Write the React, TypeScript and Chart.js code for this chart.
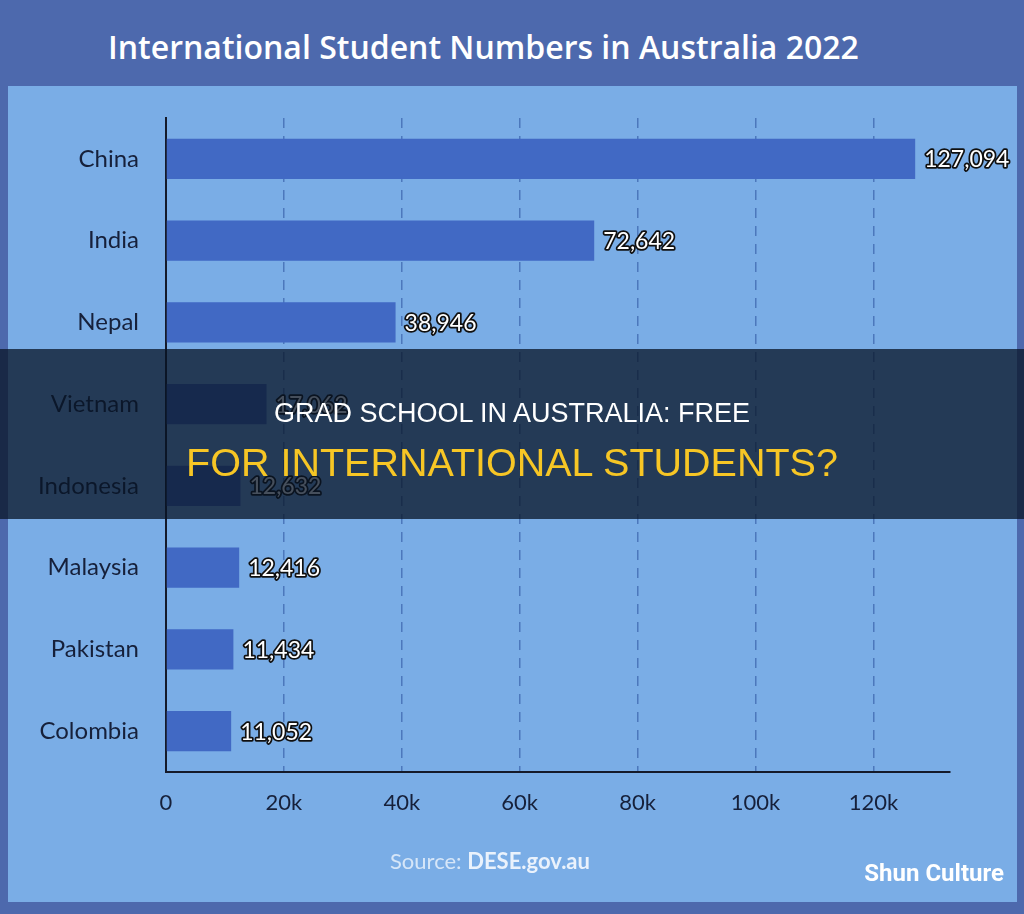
import React, { useEffect, useRef } from "react";
import { Chart, registerables } from "chart.js";

Chart.register(...registerables);

const TITLE = "International Student Numbers in Australia 2022";
const countries = ["China", "India", "Nepal", "Vietnam", "Indonesia", "Malaysia", "Pakistan", "Colombia"];
const students = [127094, 72642, 38946, 17062, 12632, 12416, 11434, 11052];
const xTickValues = [0, 20000, 40000, 60000, 80000, 100000, 120000];
const xTickLabels = ["0", "20k", "40k", "60k", "80k", "100k", "120k"];
const X_MAX = 133000;
const OVERLAY_LINE1 = "GRAD SCHOOL IN AUSTRALIA: FREE";
const OVERLAY_LINE2 = "FOR INTERNATIONAL STUDENTS?";

const valueLabelPlugin = {
  id: "valueLabels",
  afterDatasetsDraw(chart: any) {
    const ctx = chart.ctx;
    const meta = chart.getDatasetMeta(0);
    ctx.save();
    ctx.font = "23px Lato";
    ctx.textAlign = "left";
    ctx.textBaseline = "middle";
    ctx.lineJoin = "round";
    meta.data.forEach((bar: any, i: number) => {
      const txt = students[i].toLocaleString("en-US");
      const x = bar.x + 9;
      const y = bar.y + 1;
      ctx.lineWidth = 3.5;
      ctx.strokeStyle = "#101010";
      ctx.strokeText(txt, x, y);
      ctx.fillStyle = "#ffffff";
      ctx.fillText(txt, x, y);
    });
    ctx.restore();
  },
};

export default function App() {
  const canvasRef = useRef<HTMLCanvasElement | null>(null);

  useEffect(() => {
    if (!canvasRef.current) return;
    const chart = new Chart(canvasRef.current, {
      type: "bar",
      data: {
        labels: countries,
        datasets: [
          {
            data: students,
            backgroundColor: "#4169c4",
            borderWidth: 0,
            barPercentage: 0.49,
            categoryPercentage: 1,
          },
        ],
      },
      options: {
        indexAxis: "y",
        responsive: false,
        animation: false,
        devicePixelRatio: 1,
        layout: { padding: { left: 0, top: 118, right: 74, bottom: 0 } },
        plugins: {
          legend: { display: false },
          tooltip: { enabled: false },
          title: { display: false },
        },
        scales: {
          x: {
            type: "linear",
            min: 0,
            max: X_MAX,
            afterBuildTicks: (scale: any) => {
              scale.ticks = xTickValues.map((v) => ({ value: v }));
            },
            afterFit: (scale: any) => {
              scale.height = 142;
            },
            ticks: {
              padding: 18,
              color: "#16203a",
              font: { family: "Lato", size: 22 },
              callback: (v: any) => {
                const idx = xTickValues.indexOf(Number(v));
                return idx >= 0 ? xTickLabels[idx] : "";
              },
            },
            grid: {
              drawTicks: false,
              lineWidth: 1.5,
              color: (ctx: any) =>
                ctx.tick && ctx.tick.value === 0 ? "rgba(0,0,0,0)" : "rgba(45,85,160,0.6)",
            },
            border: { display: true, color: "#151a2a", width: 2, dash: [10, 8] },
          },
          y: {
            afterFit: (scale: any) => {
              scale.width = 166;
            },
            ticks: {
              padding: 27,
              color: "#16203a",
              font: { family: "Lato", size: 24 },
            },
            grid: { display: false, drawTicks: false },
            border: { display: true, color: "#151a2a", width: 2 },
          },
        },
      },
      plugins: [valueLabelPlugin],
    } as any);
    return () => chart.destroy();
  }, []);

  return (
    <div
      style={{
        position: "absolute",
        left: 0,
        top: 0,
        width: 1024,
        height: 914,
        background: "#4d69ad",
        overflow: "hidden",
      }}
    >
      <div
        style={{
          position: "absolute",
          left: 108,
          top: 31,
          fontFamily: "'Open Sans', sans-serif",
          fontWeight: 600,
          fontSize: 32,
          lineHeight: "32px",
          color: "#ffffff",
          whiteSpace: "nowrap",
        }}
      >
        {TITLE}
      </div>
      <div
        style={{
          position: "absolute",
          left: 8,
          top: 86,
          width: 1009,
          height: 816,
          background: "#7aade6",
        }}
      />
      <canvas
        ref={canvasRef}
        width={1024}
        height={914}
        style={{ position: "absolute", left: 0, top: 0, display: "block" }}
      />
      <div
        style={{
          position: "absolute",
          left: 390,
          top: 850,
          fontFamily: "Lato, sans-serif",
          fontSize: 22,
          lineHeight: "22px",
          color: "#d6e6f8",
          whiteSpace: "nowrap",
        }}
      >
        Source: <span style={{ fontWeight: 700, color: "#eaf2fc" }}>DESE.gov.au</span>
      </div>
      <div
        style={{
          position: "absolute",
          right: 20,
          top: 861,
          fontFamily: "Roboto, sans-serif",
          fontWeight: 700,
          fontSize: 24,
          lineHeight: "24px",
          color: "#ffffff",
          whiteSpace: "nowrap",
        }}
      >
        Shun Culture
      </div>
      <div
        style={{
          position: "absolute",
          left: 0,
          top: 349,
          width: 1024,
          height: 170,
          background: "rgba(8,20,38,0.75)",
        }}
      >
        <div
          style={{
            position: "absolute",
            left: 0,
            width: 1024,
            top: 50.5,
            textAlign: "center",
            fontFamily: "'Liberation Sans', Arial, sans-serif",
            fontSize: 27,
            lineHeight: "27px",
            color: "#ffffff",
            whiteSpace: "nowrap",
          }}
        >
          {OVERLAY_LINE1}
        </div>
        <div
          style={{
            position: "absolute",
            left: 0,
            width: 1024,
            top: 94,
            textAlign: "center",
            fontFamily: "'Liberation Sans', Arial, sans-serif",
            fontSize: 39.5,
            lineHeight: "39.5px",
            color: "#f7c625",
            whiteSpace: "nowrap",
          }}
        >
          {OVERLAY_LINE2}
        </div>
      </div>
    </div>
  );
}
